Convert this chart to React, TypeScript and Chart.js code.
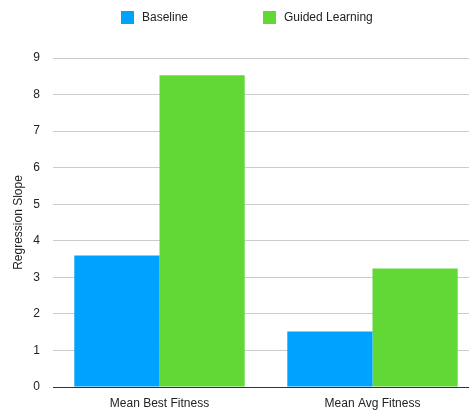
import { useEffect, useRef } from "react";
import { Chart, registerables } from "chart.js";

Chart.register(...registerables);

// Chart data
const categories = ["Mean Best Fitness", "Mean Avg Fitness"];
const seriesNames = ["Baseline", "Guided Learning"];
const baselineValues = [3.6, 1.52];
const guidedValues = [8.53, 3.24];
const yTickValues = [0, 1, 2, 3, 4, 5, 6, 7, 8, 9];
const seriesColors = ["#00A2FF", "#61D836"];
const yAxisTitle = "Regression Slope";

const FONT = '"Liberation Sans", Arial, Helvetica, sans-serif';
const TEXT_COLOR = "#222222";
const GRID_COLOR = "#cccccc";
const AXIS_COLOR = "#333333";

// Legend drawn across the top of the canvas, with wide spacing between entries
const topLegend = {
  id: "topLegend",
  afterDraw(chart: any) {
    const ctx = chart.ctx as CanvasRenderingContext2D;
    const itemX = [121, 263];
    const boxTop = 11;
    const boxSize = 13;
    ctx.save();
    ctx.font = `12px ${FONT}`;
    ctx.textBaseline = "middle";
    ctx.textAlign = "left";
    chart.data.datasets.forEach((ds: any, i: number) => {
      const x = itemX[i];
      ctx.fillStyle = ds.backgroundColor;
      ctx.fillRect(x, boxTop, boxSize, boxSize);
      ctx.fillStyle = TEXT_COLOR;
      ctx.fillText(ds.label, x + boxSize + 8, boxTop + boxSize / 2 + 0.5);
    });
    ctx.restore();
  },
};

export default function App() {
  const canvasRef = useRef<HTMLCanvasElement | null>(null);

  useEffect(() => {
    const canvas = canvasRef.current;
    if (!canvas) return;
    const chart = new Chart(canvas, {
      type: "bar",
      data: {
        labels: categories,
        datasets: [
          {
            label: seriesNames[0],
            data: baselineValues,
            backgroundColor: seriesColors[0],
            borderWidth: 0,
          },
          {
            label: seriesNames[1],
            data: guidedValues,
            backgroundColor: seriesColors[1],
            borderWidth: 0,
          },
        ],
      },
      options: {
        responsive: false,
        animation: false,
        devicePixelRatio: 1,
        layout: { padding: { top: 58, left: 0, right: 0, bottom: 0 } },
        datasets: {
          bar: { barPercentage: 1, categoryPercentage: 0.8 },
        },
        plugins: {
          legend: { display: false },
          tooltip: { enabled: false },
          title: { display: false },
        },
        scales: {
          x: {
            grid: { display: false, drawTicks: false },
            border: { display: true, color: AXIS_COLOR, width: 1 },
            ticks: {
              color: TEXT_COLOR,
              font: { family: FONT, size: 12 },
              padding: 9,
            },
            afterFit(scale: any) {
              scale.height = 23;
            },
          },
          y: {
            min: 0,
            max: 9,
            afterBuildTicks(scale: any) {
              scale.ticks = yTickValues.map((v) => ({ value: v }));
            },
            grid: {
              drawTicks: false,
              color: (c: any) => (c.tick && c.tick.value === 0 ? AXIS_COLOR : GRID_COLOR),
              lineWidth: 1,
            },
            border: { display: false },
            ticks: {
              color: TEXT_COLOR,
              font: { family: FONT, size: 12 },
              padding: 13,
            },
            title: {
              display: true,
              text: yAxisTitle,
              color: TEXT_COLOR,
              font: { family: FONT, size: 12 },
              padding: { top: 11, bottom: 0 },
            },
            afterFit(scale: any) {
              scale.width = 53;
            },
          },
        },
      },
      plugins: [topLegend],
    });
    return () => chart.destroy();
  }, []);

  return (
    <div
      style={{
        position: "fixed",
        left: 0,
        top: 0,
        width: 469,
        height: 410,
        overflow: "hidden",
        background: "#ffffff",
      }}
    >
      <canvas
        ref={canvasRef}
        width={479}
        height={410}
        style={{ display: "block", width: 479, height: 410 }}
      />
    </div>
  );
}
